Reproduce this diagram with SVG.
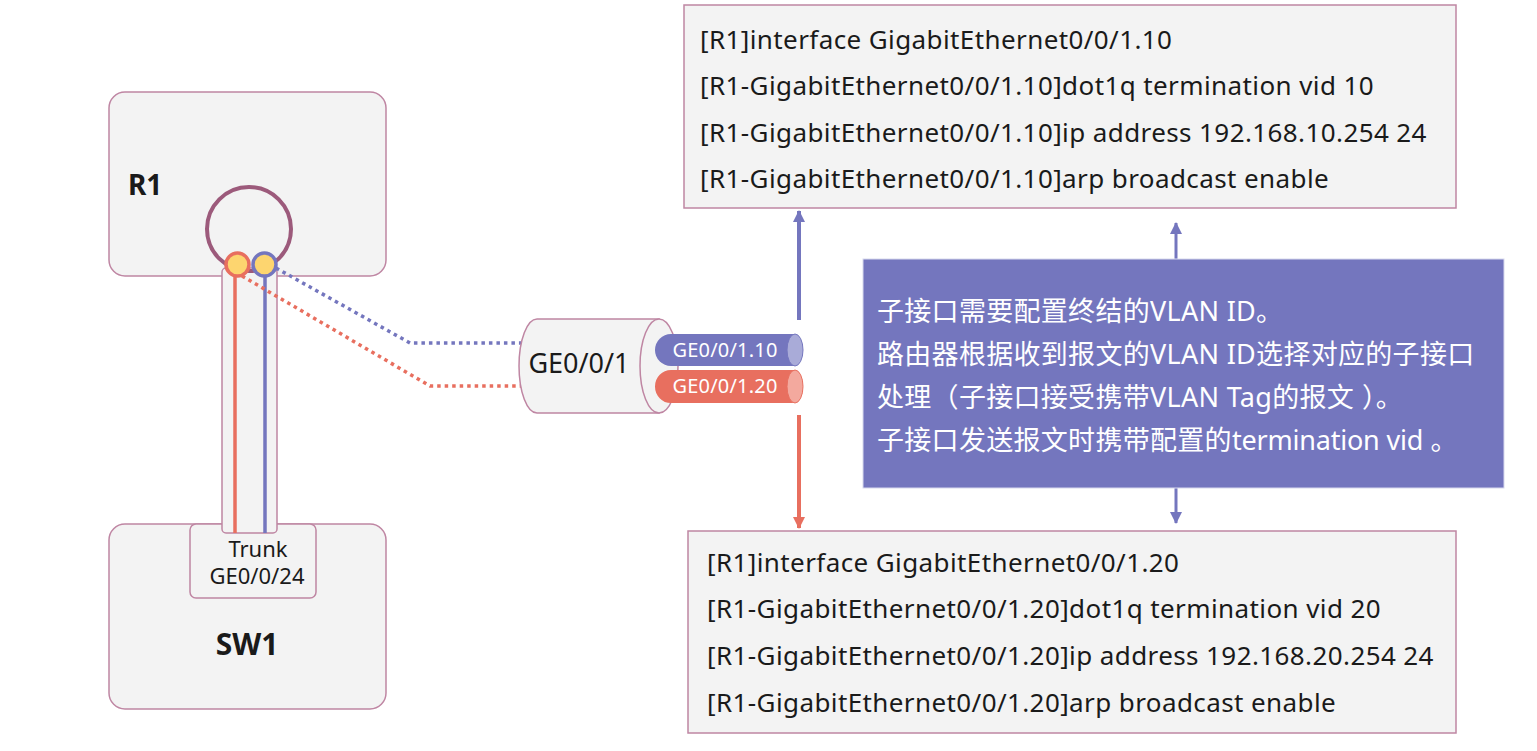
<svg xmlns="http://www.w3.org/2000/svg" width="1537" height="751" viewBox="0 0 1537 751">
<style>
.box{fill:#f3f3f3;stroke:#bf86a3;stroke-width:1.5}
.cfg{font-family:"Noto Sans","Liberation Sans",sans-serif;font-size:26px;letter-spacing:0.4px;fill:#1a1a1a}
.cn{font-family:"Noto Sans","Noto Sans CJK SC",sans-serif;font-size:27px;letter-spacing:0.3px;fill:#ffffff}
.lbl{font-family:"Noto Sans","Liberation Sans",sans-serif;fill:#1a1a1a}
.pipe{font-family:"Noto Sans","Liberation Sans",sans-serif;font-size:20px;fill:#ffffff;text-anchor:middle;letter-spacing:0.2px}
.dotb{fill:none;stroke:#7476be;stroke-width:3.5;stroke-dasharray:3.5 4}
.dotr{fill:none;stroke:#e86f5f;stroke-width:3.5;stroke-dasharray:3.5 4}
</style>
<defs>
<marker id="ab" markerUnits="userSpaceOnUse" markerWidth="14" markerHeight="14" refX="11" refY="7" orient="auto"><path d="M0,1 L12,7 L0,13 Z" fill="#7476be"/></marker>
<marker id="ar" markerUnits="userSpaceOnUse" markerWidth="14" markerHeight="14" refX="11" refY="7" orient="auto"><path d="M0,1 L12,7 L0,13 Z" fill="#e86f5f"/></marker>
</defs>
<rect width="1537" height="751" fill="#ffffff"/>

<g id="R1">
<rect class="box" x="109" y="92" width="277" height="184" rx="16"/>
<text class="lbl" x="128" y="195" font-size="28" font-weight="bold">R1</text>
</g>

<g id="SW1">
<rect class="box" x="109" y="524" width="277" height="185" rx="16"/>
<rect class="box" x="190" y="524" width="126" height="74" rx="6"/>
<text class="lbl" x="258" y="557" font-size="22" text-anchor="middle">Trunk</text>
<text class="lbl" x="257" y="584" font-size="22" text-anchor="middle">GE0/0/24</text>
<text class="lbl" x="247" y="655" font-size="30" font-weight="bold" text-anchor="middle">SW1</text>
</g>

<g id="trunk-link">
<rect class="box" x="222" y="268" width="55" height="265" rx="4"/>
<line x1="235" y1="266" x2="235" y2="533" stroke="#e86f5f" stroke-width="3.5"/>
<line x1="265" y1="266" x2="265" y2="533" stroke="#7476be" stroke-width="3.5"/>
</g>

<g id="connectors">
<polyline class="dotb" points="276,268 410,343 522,343"/>
<polyline class="dotr" points="242,276 430,386 522,386"/>
<line x1="799" y1="320" x2="799" y2="211" stroke="#7476be" stroke-width="4" marker-end="url(#ab)"/>
<line x1="799" y1="415" x2="799" y2="528" stroke="#e86f5f" stroke-width="4" marker-end="url(#ar)"/>
<line x1="1176" y1="259" x2="1176" y2="223" stroke="#7476be" stroke-width="3" marker-end="url(#ab)"/>
<line x1="1176" y1="488" x2="1176" y2="523" stroke="#7476be" stroke-width="3" marker-end="url(#ab)"/>
</g>

<g id="R1-ports">
<circle cx="249" cy="229" r="42" fill="none" stroke="#9c5a7b" stroke-width="4"/>
<circle cx="237.5" cy="264.5" r="11.5" fill="#fdd56f" stroke="#e86f5f" stroke-width="3.5"/>
<circle cx="264.5" cy="264.5" r="11.5" fill="#fdd56f" stroke="#7476be" stroke-width="3.5"/>
</g>

<g id="GE0-0-1">
<path class="box" d="M537,319 L659,319 L659,413 L537,413 A18,47 0 0 1 537,319 Z"/>
<ellipse class="box" cx="659" cy="366" rx="19" ry="47"/>
<text class="lbl" x="579" y="373" font-size="27" text-anchor="middle">GE0/0/1</text>
</g>

<g id="GE0-0-1.10">
<path d="M671,334 L795,334 L795,366 L671,366 A16,16 0 0 1 671,334 Z" fill="#7476be"/>
<ellipse cx="795" cy="350" rx="8" ry="16" fill="#a9abd8" stroke="#7476be" stroke-width="1"/>
<text class="pipe" x="725" y="357">GE0/0/1.10</text>
</g>

<g id="GE0-0-1.20">
<path d="M671,370 L795,370 L795,403 L671,403 A16,16.5 0 0 1 671,370 Z" fill="#e86f5f"/>
<ellipse cx="795" cy="386.5" rx="8" ry="16.5" fill="#f3a99e" stroke="#e86f5f" stroke-width="1"/>
<text class="pipe" x="725" y="393">GE0/0/1.20</text>
</g>

<g id="cfg-10">
<rect class="box" x="684" y="5" width="772" height="203"/>
<text class="cfg" x="700" y="48.5">[R1]interface GigabitEthernet0/0/1.10</text>
<text class="cfg" x="700" y="95">[R1-GigabitEthernet0/0/1.10]dot1q termination vid 10</text>
<text class="cfg" x="700" y="141.5">[R1-GigabitEthernet0/0/1.10]ip address 192.168.10.254 24</text>
<text class="cfg" x="700" y="188">[R1-GigabitEthernet0/0/1.10]arp broadcast enable</text>
</g>

<g id="cfg-20">
<rect class="box" x="688" y="531" width="768" height="202"/>
<text class="cfg" x="707" y="571.5">[R1]interface GigabitEthernet0/0/1.20</text>
<text class="cfg" x="707" y="618">[R1-GigabitEthernet0/0/1.20]dot1q termination vid 20</text>
<text class="cfg" x="707" y="665">[R1-GigabitEthernet0/0/1.20]ip address 192.168.20.254 24</text>
<text class="cfg" x="707" y="712">[R1-GigabitEthernet0/0/1.20]arp broadcast enable</text>
</g>

<g id="note">
<rect x="863" y="259" width="641" height="229" fill="#7476be" stroke="#d8d9ee" stroke-width="1"/>
<text class="cn" x="877" y="321">子接口需要配置终结的VLAN ID。</text>
<text class="cn" x="877" y="364">路由器根据收到报文的VLAN ID选择对应的子接口</text>
<text class="cn" x="877" y="407">处理（子接口接受携带VLAN Tag的报文<tspan dx="8">）。</tspan></text>
<text class="cn" x="877" y="450">子接口发送报文时携带配置的<tspan letter-spacing="-0.2">termination vid</tspan> 。</text>
</g>
</svg>
